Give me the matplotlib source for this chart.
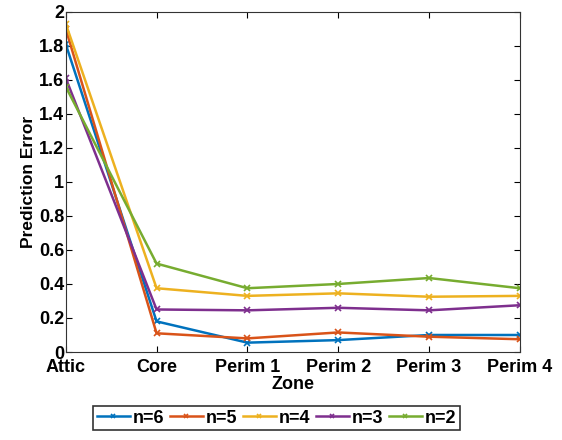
import matplotlib.pyplot as plt
import numpy as np

plt.rcParams['font.family'] = ['Liberation Sans', 'DejaVu Sans']
plt.rcParams['font.weight'] = 'bold'

zones = ["Attic", "Core", "Perim 1", "Perim 2", "Perim 3", "Perim 4"]
n6 = [1.81, 0.18, 0.055, 0.07, 0.10, 0.10]
n5 = [1.90, 0.11, 0.08, 0.115, 0.09, 0.075]
n4 = [1.93, 0.375, 0.33, 0.345, 0.325, 0.33]
n3 = [1.61, 0.25, 0.245, 0.26, 0.245, 0.275]
n2 = [1.56, 0.52, 0.375, 0.40, 0.435, 0.375]

series = [("n=6", n6, "#0072BD"), ("n=5", n5, "#D95319"), ("n=4", n4, "#EDB120"),
          ("n=3", n3, "#7E2F8E"), ("n=2", n2, "#77AC30")]

fig = plt.figure(figsize=(5.62, 4.4), dpi=100)
ax = fig.add_axes([0.117, 0.2, 0.808, 0.773])

x = np.arange(1, len(zones) + 1)
for name, vals, col in series:
    ax.plot(x, vals, "-x", color=col, lw=1.8, ms=5, mew=1.2, label=name)

ax.set_xlim(1, 6)
ax.set_ylim(0, 2)
ax.set_xticks(x)
ax.set_xticklabels(zones)
yt = np.arange(0, 2.01, 0.2)
ax.set_yticks(yt)
ax.set_yticklabels(["%g" % round(v, 1) for v in yt])
ax.tick_params(direction="in", top=True, right=True, labelsize=13, pad=1, length=4)
ax.tick_params(axis="x", pad=5)
for s in ax.spines.values():
    s.set_color("#333333")
ax.set_xlabel("Zone", fontsize=13, fontweight="bold", labelpad=0)
ax.set_ylabel("Prediction Error", fontsize=12.5, fontweight="bold", labelpad=2)

leg = fig.legend(loc="center", bbox_to_anchor=(0.492, 0.05), ncol=5, fontsize=13,
                 frameon=True, fancybox=False, handlelength=1.8, handletextpad=0.15,
                 columnspacing=0.35, borderpad=0.2, markerscale=0.7)
leg.get_frame().set_edgecolor("black")
leg.get_frame().set_linewidth(1.2)

fig.savefig("out.png")
